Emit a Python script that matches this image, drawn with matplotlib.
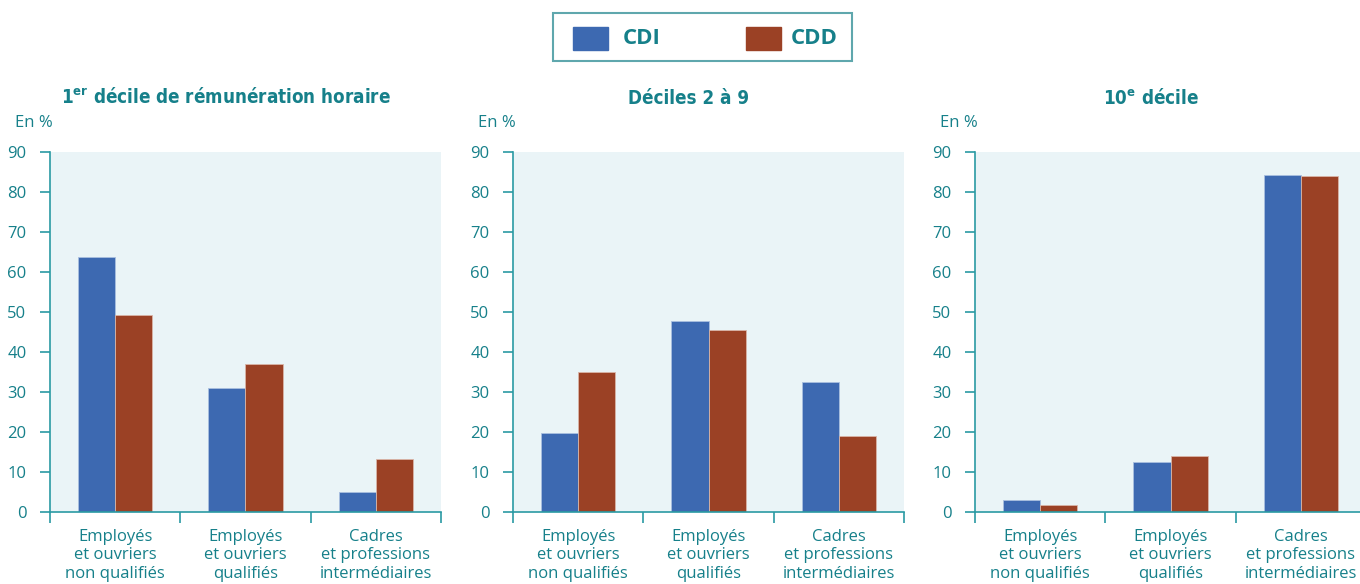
import numpy as np
import matplotlib.pyplot as plt
from matplotlib.patches import Rectangle

# data
categories = ["Employés\net ouvriers\nnon qualifiés",
              "Employés\net ouvriers\nqualifiés",
              "Cadres\net professions\nintermédiaires"]
panel_titles = ["1$^{\\mathregular{er}}$ décile de rémunération horaire",
                "Déciles 2 à 9",
                "10$^{\\mathregular{e}}$ décile"]
cdi = [[63.7, 31.0, 5.0],
       [19.7, 47.8, 32.4],
       [3.1, 12.6, 84.2]]
cdd = [[49.3, 37.1, 13.3],
       [35.1, 45.6, 19.1],
       [1.7, 14.1, 84.1]]
yticks = [0, 10, 20, 30, 40, 50, 60, 70, 80, 90]

BLUE = "#3d69b1"
RED = "#9b4125"
TEAL = "#16808a"
BG = "#eaf4f7"
AXC = "#2a9aa3"

plt.rcParams['font.family'] = ['Open Sans', 'DejaVu Sans']

W, H = 1360, 584
fig = plt.figure(figsize=(W / 100, H / 100), dpi=100)

lefts = [50, 513, 975]
ax_w, ax_top, ax_bot = 391, 152, 512
x = np.arange(len(categories))
bw = 0.285

for i, left in enumerate(lefts):
    ax = fig.add_axes([left / W, (H - ax_bot) / H, ax_w / W, (ax_bot - ax_top) / H])
    ax.set_facecolor(BG)
    ax.bar(x - bw / 2, cdi[i], bw, color=BLUE, edgecolor="#a9bfe0", linewidth=0.6)
    ax.bar(x + bw / 2, cdd[i], bw, color=RED, edgecolor="#d9b5a8", linewidth=0.6)
    ax.set_xlim(-0.5, 2.5)
    ax.set_ylim(0, 90)
    for s in ["top", "right"]:
        ax.spines[s].set_visible(False)
    for s in ["left", "bottom"]:
        ax.spines[s].set_color(AXC)
        ax.spines[s].set_linewidth(1.2)
    ax.set_yticks(yticks)
    ax.tick_params(axis="y", colors=AXC, labelcolor=TEAL, labelsize=12, length=7,
                   width=1.2, pad=10)
    ax.set_xticks([-0.5, 0.5, 1.5, 2.5])
    ax.set_xticklabels([])
    ax.tick_params(axis="x", which="major", colors=AXC, length=8, width=1.2)
    ax.set_xticks(x, minor=True)
    ax.set_xticklabels(categories, minor=True, color=TEAL, fontsize=12,
                       linespacing=1.22)
    ax.tick_params(axis="x", which="minor", length=0, pad=12)
    fig.text((left - 35) / W, 1 - 123 / H, "En %", color=TEAL, fontsize=12,
             ha="left", va="center")
    fig.text((left + ax_w / 2 - 20) / W, 1 - 98 / H, panel_titles[i], color=TEAL,
             fontsize=13.5, fontweight="bold", ha="center", va="center",
             fontstretch="condensed",
             family=['DejaVu Sans Condensed', 'Liberation Sans Narrow', 'DejaVu Sans'])

# legend box drawn as figure patches
fig.patches.append(Rectangle((553 / W, 1 - 61 / H), 299 / W, 48 / H,
                             transform=fig.transFigure, fill=False,
                             edgecolor="#5fa7ad", linewidth=1.5))
fig.patches.append(Rectangle((573 / W, 1 - 50 / H), 35 / W, 23 / H,
                             transform=fig.transFigure, color=BLUE))
fig.patches.append(Rectangle((746 / W, 1 - 50 / H), 35 / W, 23 / H,
                             transform=fig.transFigure, color=RED))
fig.text(623 / W, 1 - 39 / H, "CDI", color=TEAL, fontsize=16, fontweight="bold",
         va="center", ha="left")
fig.text(791 / W, 1 - 39 / H, "CDD", color=TEAL, fontsize=16, fontweight="bold",
         va="center", ha="left")

fig.savefig("out.png", dpi=100)
